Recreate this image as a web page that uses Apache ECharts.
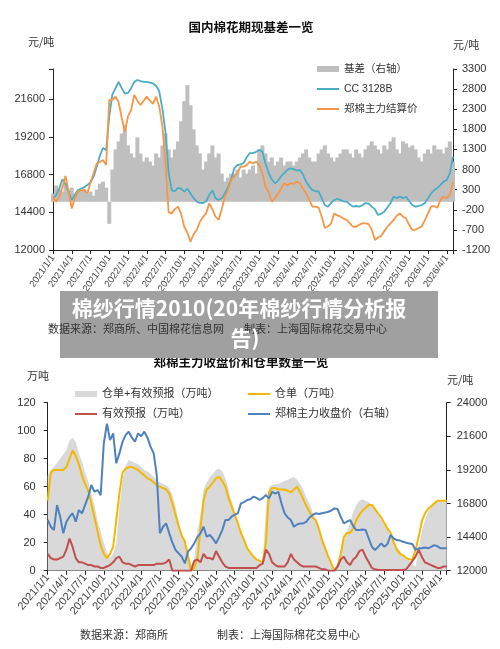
<!DOCTYPE html>
<html><head><meta charset="utf-8">
<script src="https://cdn.jsdelivr.net/npm/echarts@6/dist/echarts.min.js"></script>
<style>html,body{margin:0;padding:0;background:#fff}#c{width:500px;height:649px}</style>
</head><body><div id="c"></div>
<script>
// x positions: month index from 2021/1 (0) in half-month steps
const tickLabels = ['2021/1/1','2021/4/1','2021/7/1','2021/10/1','2022/1/1','2022/4/1','2022/7/1','2022/10/1','2023/1/1','2023/4/1','2023/7/1','2023/10/1','2024/1/1','2024/4/1','2024/7/1','2024/10/1','2025/1/1','2025/4/1','2025/7/1','2025/10/1','2026/1/1','2026/4/1'];

// Chart 1: 国内棉花期现基差一览
const cc3128b = [
 15290,15500,15900,16500,16200,15700,15180,15500,15820,15900,16000,16140,16300,16670,17300,18000,18500,18350,20500,21900,22300,22700,22300,21950,
 22000,22300,22700,22820,22750,22700,22700,22650,22600,22450,22100,21000,19500,16900,15800,15750,15950,15900,15710,15900,15600,15300,15075,15000,
 14990,15100,15500,15800,15300,15180,15300,15600,16000,16460,17200,17410,17450,17540,17900,18170,18170,18250,18370,18270,17500,16900,16500,16250,
 16400,16700,16900,17100,17200,17150,17050,17100,16800,16350,16050,15820,15750,15710,15300,14850,14760,15000,15180,15250,15180,15100,15075,14900,
 14760,14800,14760,14850,14990,14950,14760,14600,14230,14300,14440,14700,14990,15390,15300,15400,15290,15390,15100,14860,14760,14800,14860,14990,
 15290,15600,15820,15950,16140,16350,16460,16900,17940];
const futuresSettle = [
 15370,15070,15390,16000,16710,15710,14650,15300,15710,15800,15820,15600,16300,16880,17520,17600,17730,17410,21550,21550,21760,21400,20400,19530,
 20500,20910,21870,21500,21230,21500,21760,21500,21300,21760,21120,19900,17500,14400,14330,14600,14760,14300,13480,13100,12530,13000,13270,13800,
 14100,14330,14970,14600,14120,13910,14600,15390,15800,16460,16700,16880,17310,17310,17400,17620,17500,17620,17400,16880,16030,15710,15070,15300,
 15600,15920,16250,16100,16250,16200,16350,16250,15900,15600,15200,14760,14760,14700,14120,13400,13500,13700,14330,14200,14120,14000,13910,13700,
 13480,13480,13600,13700,13700,13650,13300,12640,12800,12900,13200,13480,13700,13910,14200,14330,14120,14000,13590,13270,13300,13400,13500,13900,
 14330,14760,14800,14700,15200,15390,15300,15500,16350];
const basis = [
 200,400,300,250,450,300,350,200,250,300,300,200,250,150,300,450,500,350,-550,800,1300,1500,1700,1900,
 1400,1200,1100,1600,1200,1000,1100,1000,900,1200,1100,1400,1700,1300,1100,1300,1500,2000,2500,2900,2400,1800,1400,1200,
 800,1000,1200,1400,1100,1200,700,500,600,700,700,800,600,800,700,800,900,700,1300,1400,1200,1000,1100,900,
 1000,1100,900,1000,1000,900,1000,1100,1200,1300,1100,1000,1000,1200,1300,1400,1200,1100,1000,1100,1200,1300,1300,1200,
 1100,1300,1200,1100,1300,1400,1500,1400,1300,1200,1400,1300,1500,1600,1300,1200,1500,1450,1350,1400,1300,1100,1000,1200,
 1300,1200,1400,1300,1300,1200,1350,1500,1000];

// Chart 2: 郑棉主力收盘价和仓单数量一览
const closePrice = [
 15620,15140,14900,16690,15860,14670,15500,15860,16100,15500,16330,16100,16700,17290,18120,17640,17760,17400,21100,22500,21330,21810,19670,20380,
 21200,21690,21930,21500,21210,21810,21600,21930,21500,20860,20380,18800,14670,15140,15380,14670,14000,13480,13240,13000,12520,13360,13600,13950,
 14400,14670,15140,14430,14550,14300,13950,14400,14900,15620,15620,15860,16000,16100,16810,16900,17050,17100,17290,17200,17050,17200,17400,17170,
 17640,17500,17640,16800,16100,15800,15620,15140,15300,15380,15380,15500,15800,15980,16100,16050,16100,16150,16210,16300,16450,16400,15860,15380,
 15500,15620,15200,14900,14900,14950,14900,14300,13710,13480,13700,13950,13710,13900,14550,14300,14190,14150,14070,14000,13950,13900,13480,13600,
 13600,13650,13600,13700,13830,13750,13600,13600,13600];
const totalStock = [
 68,72,74,77,80,83,86,93,95,92,84,78,70,64,55,47,36,28,20,13,9,12,20,45,
 65,75,79,78,77,76,74,72,71,69,67,65,63,62,61,59,54,46,35,27,20,14,4,8,
 28,40,58,63,67,69,72,73,71,66,58,50,42,35,28,22,17,13,10,8,7,6,45,60,
 61,62,62,63,64,65,66,67,65,62,58,52,48,42,36,30,24,18,12,6,2,5,14,22,
 28,34,42,47,50,51,50,49,47,44,41,37,33,30,25,22,17,14,11,8,7,5,3,15,
 28,36,42,46,48,50,50,50,50];
const warehouse = [
 50,70,72,72,72,72,74,80,86,82,76,68,62,57,48,38,28,18,12,9,12,17,36,55,
 70,73,74,74,73,72,70,68,66,65,63,61,60,59,58,55,48,40,32,25,21,10,0,2,
 8,30,50,58,60,63,66,67,64,60,52,46,40,34,27,22,16,13,10,8,7,6,20,56,
 59,59,58,58,58,57,56,58,60,56,51,46,42,38,36,30,22,16,10,5,0,3,12,24,
 27,27,30,36,40,43,45,47,47,44,41,38,34,30,27,20,15,12,11,9,8,8,15,24,
 35,41,44,46,48,50,50,50,50];
const forecast = [
 12,9,8,8,9,10,15,23,17,9,6,6,5,4,4,3,3,2,2,3,4,6,9,10,
 6,5,5,4,3,4,4,4,4,4,4,5,5,5,6,8,0,0,0,0,0,0,0,7,
 8,6,12,9,9,8,14,10,6,3,2,2,2,2,2,2,2,2,2,2,4,5,15,12,
 6,4,3,3,3,6,12,8,6,4,3,3,3,3,3,2,1,1,0,0,0,3,8,10,
 6,4,8,10,14,15,10,6,2,1,0.5,0.5,0.5,0.5,0.5,0.5,0.5,0.5,0.5,1,4,7,10,15,
 10,6,5,4,3,2,2,3,3];

const xy = arr => arr.map((v, i) => [i * 0.5, v]);
const FONT = '"Liberation Sans", "Noto Sans CJK SC", sans-serif';
const CJK = '"Noto Sans CJK SC", sans-serif';
const xLabelFmt = v => (v % 3 === 0 && tickLabels[v / 3]) ? tickLabels[v / 3] : '';

function xAxisCfg(gi, fs, rot, margin) {
  return {
    type: 'value', gridIndex: gi, min: 0, max: 64, interval: 3,
    axisLine: { show: true, onZero: false, lineStyle: { color: '#222', width: 1 } },
    axisTick: { show: true, length: 4, lineStyle: { color: '#222' } },
    splitLine: { show: false },
    axisLabel: { rotate: rot, fontSize: fs, color: '#444', margin: margin, fontFamily: FONT, formatter: xLabelFmt, hideOverlap: false }
  };
}
function yAxisCfg(gi, pos, min, max, interval, margin, fmt) {
  return {
    type: 'value', gridIndex: gi, position: pos, min: min, max: max, interval: interval,
    axisLine: { show: true, lineStyle: { color: '#222', width: 1 } },
    axisTick: { show: true, length: 4, lineStyle: { color: '#222' } },
    splitLine: { show: false },
    axisLabel: { fontSize: 11, color: '#333', margin: margin, fontFamily: FONT, formatter: fmt }
  };
}

const chart = echarts.init(document.getElementById('c'), null, { renderer: 'canvas' });
const txt = (text, x, y, opts) => Object.assign({
  type: 'text', x: x, y: y, z: 50,
  style: Object.assign({ text: text, fill: '#333', font: '11px ' + CJK, textAlign: 'left', textVerticalAlign: 'middle' }, opts || {})
});
const noDot = { opacity: 0 };

chart.setOption({
  animation: false,
  backgroundColor: '#fff',
  grid: [
    { left: 53, top: 69, width: 400, height: 181 },
    { left: 47.7, top: 402.7, width: 399, height: 168 }
  ],
  xAxis: [ xAxisCfg(0, 9.5, 55, 6), xAxisCfg(1, 11, 50, 5) ],
  yAxis: [
    yAxisCfg(0, 'left', 12000, 23520, 2400, 8, v => (v % 2400 === 0 ? v : '')),
    yAxisCfg(0, 'right', -1200, 3300, 500, 9, v => v),
    yAxisCfg(1, 'left', 0, 120, 20, 12, v => v),
    yAxisCfg(1, 'right', 12000, 24000, 2400, 10, v => v)
  ],
  legend: [
    { orient: 'vertical', left: 311, top: 57, itemWidth: 22, itemHeight: 6, itemGap: 6,
      textStyle: { fontSize: 10.5, color: '#333', fontFamily: FONT, lineHeight: 14 },
      data: [ { name: '基差（右轴）', icon: 'rect' }, { name: 'CC 3128B', itemStyle: noDot }, { name: '郑棉主力结算价', itemStyle: noDot } ] },
    { orient: 'vertical', left: 69, top: 382, itemWidth: 22, itemHeight: 6, itemGap: 6,
      textStyle: { fontSize: 11, color: '#333', fontFamily: FONT, lineHeight: 14 },
      data: [ { name: '仓单+有效预报（万吨）', icon: 'rect' }, { name: '有效预报（万吨）', itemStyle: noDot } ] },
    { orient: 'vertical', left: 242, top: 382, itemWidth: 22, itemHeight: 6, itemGap: 6,
      textStyle: { fontSize: 11, color: '#333', fontFamily: FONT, lineHeight: 14 },
      data: [ { name: '仓单（万吨）', itemStyle: noDot }, { name: '郑棉主力收盘价（右轴）', itemStyle: noDot } ] }
  ],
  series: [
    { name: '基差（右轴）', type: 'bar', xAxisIndex: 0, yAxisIndex: 1, data: xy(basis), barWidth: 4,
      itemStyle: { color: '#BFBFBF' }, z: 1 },
    { name: 'CC 3128B', type: 'line', xAxisIndex: 0, yAxisIndex: 0, data: xy(cc3128b), symbol: 'none',
      lineStyle: { width: 1.8, color: '#4BACC6' }, itemStyle: { color: '#4BACC6' }, z: 3 },
    { name: '郑棉主力结算价', type: 'line', xAxisIndex: 0, yAxisIndex: 0, data: xy(futuresSettle), symbol: 'none',
      lineStyle: { width: 1.8, color: '#F79646' }, itemStyle: { color: '#F79646' }, z: 4 },
    { name: '仓单+有效预报（万吨）', type: 'line', xAxisIndex: 1, yAxisIndex: 2, data: xy(totalStock), symbol: 'none',
      lineStyle: { width: 0, color: '#D9D9D9' }, itemStyle: { color: '#D9D9D9' }, areaStyle: { color: '#D9D9D9', opacity: 1 }, z: 1 },
    { name: '仓单（万吨）', type: 'line', xAxisIndex: 1, yAxisIndex: 2, data: xy(warehouse), symbol: 'none',
      lineStyle: { width: 2, color: '#F5B800' }, itemStyle: { color: '#F5B800' }, z: 3 },
    { name: '有效预报（万吨）', type: 'line', xAxisIndex: 1, yAxisIndex: 2, data: xy(forecast), symbol: 'none',
      lineStyle: { width: 2, color: '#C0504D' }, itemStyle: { color: '#C0504D' }, z: 4 },
    { name: '郑棉主力收盘价（右轴）', type: 'line', xAxisIndex: 1, yAxisIndex: 3, data: xy(closePrice), symbol: 'none',
      lineStyle: { width: 2, color: '#4F81BD' }, itemStyle: { color: '#4F81BD' }, z: 5 }
  ],
  graphic: [
    txt('国内棉花期现基差一览', 251, 27, { textAlign: 'center', font: 'bold 12.5px ' + CJK, fill: '#111' }),
    txt('元/吨', 28, 42),
    txt('元/吨', 453, 45),
    txt('郑棉主力收盘价和仓单数量一览', 241, 362, { textAlign: 'center', font: 'bold 12.5px ' + CJK, fill: '#111' }),
    txt('万吨', 27, 376),
    txt('元/吨', 447, 380),
    txt('数据来源：郑商所', 80, 635, { font: '11px ' + CJK }),
    txt('制表：上海国际棉花交易中心', 217, 635, { font: '11px ' + CJK }),
    { type: 'rect', z: 100, shape: { x: 60, y: 291, width: 378, height: 67 }, style: { fill: '#a0a0a0' } },
    Object.assign(txt('数据来源：郑商所、中国棉花信息网', 48, 329, { font: '11px ' + CJK, fill: '#333' }), { z: 101 }),
    Object.assign(txt('制表：上海国际棉花交易中心', 244, 329, { font: '11px ' + CJK, fill: '#333' }), { z: 101 }),
    Object.assign(txt('棉纱行情2010(20年棉纱行情分析报', 239, 308, { textAlign: 'center', font: 'bold 21px ' + CJK, fill: '#fff' }), { z: 102 }),
    Object.assign(txt('告)', 245, 338, { textAlign: 'center', font: 'bold 21px ' + CJK, fill: '#fff' }), { z: 102 })
  ]
});
</script>
</body></html>
